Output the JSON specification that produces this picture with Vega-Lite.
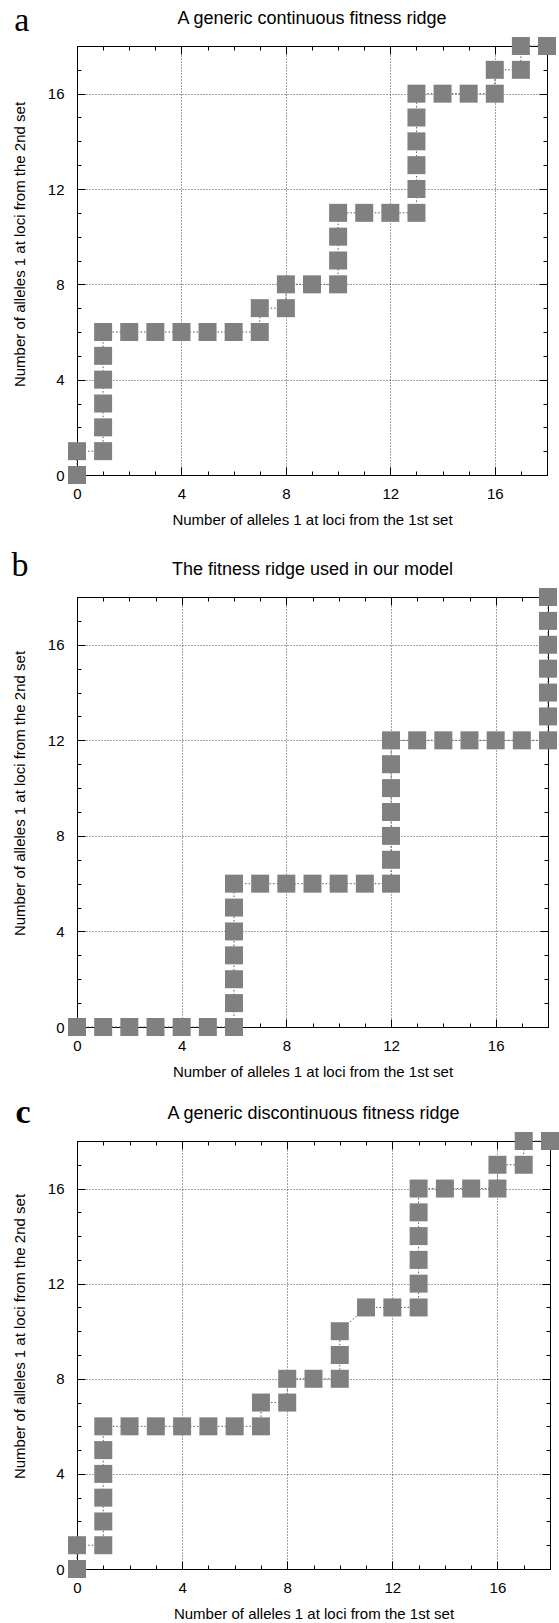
{
  "$schema": "https://vega.github.io/schema/vega-lite/v6.json",
  "background": "#ffffff",
  "padding": {"left": 10, "top": 3, "right": 0, "bottom": 0},
  "datasets": {
    "a": [
      {"x": 0, "y": 0}, {"x": 0, "y": 1}, {"x": 1, "y": 1}, {"x": 1, "y": 2}, {"x": 1, "y": 3}, {"x": 1, "y": 4}, {"x": 1, "y": 5}, {"x": 1, "y": 6},
      {"x": 2, "y": 6}, {"x": 3, "y": 6}, {"x": 4, "y": 6}, {"x": 5, "y": 6}, {"x": 6, "y": 6}, {"x": 7, "y": 6}, {"x": 7, "y": 7}, {"x": 8, "y": 7},
      {"x": 8, "y": 8}, {"x": 9, "y": 8}, {"x": 10, "y": 8}, {"x": 10, "y": 9}, {"x": 10, "y": 10}, {"x": 10, "y": 11}, {"x": 11, "y": 11}, {"x": 12, "y": 11},
      {"x": 13, "y": 11}, {"x": 13, "y": 12}, {"x": 13, "y": 13}, {"x": 13, "y": 14}, {"x": 13, "y": 15}, {"x": 13, "y": 16}, {"x": 14, "y": 16}, {"x": 15, "y": 16},
      {"x": 16, "y": 16}, {"x": 16, "y": 17}, {"x": 17, "y": 17}, {"x": 17, "y": 18}, {"x": 18, "y": 18}
    ],
    "b": [
      {"x": 0, "y": 0}, {"x": 1, "y": 0}, {"x": 2, "y": 0}, {"x": 3, "y": 0}, {"x": 4, "y": 0}, {"x": 5, "y": 0}, {"x": 6, "y": 0},
      {"x": 6, "y": 1}, {"x": 6, "y": 2}, {"x": 6, "y": 3}, {"x": 6, "y": 4}, {"x": 6, "y": 5}, {"x": 6, "y": 6},
      {"x": 7, "y": 6}, {"x": 8, "y": 6}, {"x": 9, "y": 6}, {"x": 10, "y": 6}, {"x": 11, "y": 6}, {"x": 12, "y": 6},
      {"x": 12, "y": 7}, {"x": 12, "y": 8}, {"x": 12, "y": 9}, {"x": 12, "y": 10}, {"x": 12, "y": 11}, {"x": 12, "y": 12},
      {"x": 13, "y": 12}, {"x": 14, "y": 12}, {"x": 15, "y": 12}, {"x": 16, "y": 12}, {"x": 17, "y": 12}, {"x": 18, "y": 12},
      {"x": 18, "y": 13}, {"x": 18, "y": 14}, {"x": 18, "y": 15}, {"x": 18, "y": 16}, {"x": 18, "y": 17}, {"x": 18, "y": 18}
    ],
    "c": [
      {"x": 0, "y": 0}, {"x": 0, "y": 1}, {"x": 1, "y": 1}, {"x": 1, "y": 2}, {"x": 1, "y": 3}, {"x": 1, "y": 4}, {"x": 1, "y": 5}, {"x": 1, "y": 6},
      {"x": 2, "y": 6}, {"x": 3, "y": 6}, {"x": 4, "y": 6}, {"x": 5, "y": 6}, {"x": 6, "y": 6}, {"x": 7, "y": 6}, {"x": 7, "y": 7}, {"x": 8, "y": 7},
      {"x": 8, "y": 8}, {"x": 9, "y": 8}, {"x": 10, "y": 8}, {"x": 10, "y": 9}, {"x": 10, "y": 10}, {"x": 11, "y": 11}, {"x": 12, "y": 11},
      {"x": 13, "y": 11}, {"x": 13, "y": 12}, {"x": 13, "y": 13}, {"x": 13, "y": 14}, {"x": 13, "y": 15}, {"x": 13, "y": 16}, {"x": 14, "y": 16}, {"x": 15, "y": 16},
      {"x": 16, "y": 16}, {"x": 16, "y": 17}, {"x": 17, "y": 17}, {"x": 17, "y": 18}, {"x": 18, "y": 18}
    ]
  },
  "spacing": 20,
  "vconcat": [
    {
      "width": 470, "height": 429,
      "data": {"name": "a"},
      "resolve": {"axis": {"x": "independent", "y": "independent"}},
      "layer": [
        {
          "mark": {"type": "line", "color": "#555555", "strokeWidth": 1, "strokeDash": [1.5, 2]},
          "encoding": {
            "x": {"field": "x", "type": "quantitative", "scale": {"domain": [0, 18], "nice": false},
              "axis": {"orient": "top", "values": [0,1,2,3,4,5,6,7,8,9,10,11,12,13,14,15,16,17,18], "labels": false, "title": null, "grid": false, "tickColor": "#000000", "domainColor": "#000000",
                "tickSize": {"condition": {"test": "datum.value % 4 === 0", "value": -8}, "value": -4}}},
            "y": {"field": "y", "type": "quantitative", "scale": {"domain": [0, 18], "nice": false},
              "axis": {"orient": "right", "values": [0,1,2,3,4,5,6,7,8,9,10,11,12,13,14,15,16,17,18], "labels": false, "title": null, "grid": false, "tickColor": "#000000", "domainColor": "#000000",
                "tickSize": {"condition": {"test": "datum.value % 4 === 0", "value": -8}, "value": -4}}},
            "order": {"value": null}
          }
        },
        {
          "mark": {"type": "square", "size": 324, "color": "#808080", "opacity": 1},
          "encoding": {
            "x": {"field": "x", "type": "quantitative", "scale": {"domain": [0, 18], "nice": false},
              "axis": {"orient": "bottom", "values": [0,1,2,3,4,5,6,7,8,9,10,11,12,13,14,15,16,17,18], "title": "Number of alleles 1 at loci from the 1st set",
                "labelExpr": "datum.value % 4 === 0 ? datum.label : ''", "labelFlush": false, "labelOverlap": false,
                "grid": true, "gridColor": "#000000", "gridDash": [1, 2], "gridWidth": 0.8,
                "gridOpacity": {"condition": {"test": "datum.value % 4 === 0", "value": 0.9}, "value": 0},
                "tickSize": {"condition": {"test": "datum.value % 4 === 0", "value": -8}, "value": -4}, "tickColor": "#000000", "domainColor": "#000000",
                "labelFont": "Liberation Sans", "labelFontSize": 15, "labelColor": "#000000", "labelPadding": 19,
                "titleFont": "Liberation Sans", "titleFontSize": 15, "titleFontWeight": "normal", "titleColor": "#000000", "titlePadding": 7}},
            "y": {"field": "y", "type": "quantitative", "scale": {"domain": [0, 18], "nice": false},
              "axis": {"orient": "left", "values": [0,1,2,3,4,5,6,7,8,9,10,11,12,13,14,15,16,17,18], "title": "Number of alleles 1 at loci from the 2nd set",
                "labelExpr": "datum.value % 4 === 0 ? datum.label : ''", "labelFlush": false, "labelOverlap": false,
                "grid": true, "gridColor": "#000000", "gridDash": [1, 2], "gridWidth": 0.8,
                "gridOpacity": {"condition": {"test": "datum.value % 4 === 0", "value": 0.9}, "value": 0},
                "tickSize": {"condition": {"test": "datum.value % 4 === 0", "value": -8}, "value": -4}, "tickColor": "#000000", "domainColor": "#000000",
                "labelFont": "Liberation Sans", "labelFontSize": 15, "labelColor": "#000000", "labelPadding": 21,
                "titleFont": "Liberation Sans", "titleFontSize": 15, "titleFontWeight": "normal", "titleColor": "#000000", "titlePadding": 20, "titleY": 198}}
          }
        },
        {
          "data": {"values": [{}]},
          "mark": {"type": "text", "text": "a", "font": "Liberation Serif", "fontSize": 34, "align": "center", "baseline": "alphabetic", "color": "#000000"},
          "encoding": {
            "x": {"datum": -2.11, "type": "quantitative", "scale": {"domain": [0, 18], "nice": false}, "axis": null},
            "y": {"datum": 18.65, "type": "quantitative", "scale": {"domain": [0, 18], "nice": false}, "axis": null}
          }
        },
        {
          "data": {"values": [{}]},
          "mark": {"type": "text", "text": "A generic continuous fitness ridge", "font": "Liberation Sans", "fontSize": 18, "align": "center", "baseline": "alphabetic", "color": "#000000"},
          "encoding": {
            "x": {"datum": 9, "type": "quantitative", "scale": {"domain": [0, 18], "nice": false}, "axis": null},
            "y": {"datum": 18.94, "type": "quantitative", "scale": {"domain": [0, 18], "nice": false}, "axis": null}
          }
        }
      ]
    },
    {
      "spacing": 15,
      "vconcat": [
        {
          "width": 471, "height": 430,
          "data": {"name": "b"},
          "resolve": {"axis": {"x": "independent", "y": "independent"}},
          "layer": [
            {
              "mark": {"type": "line", "color": "#555555", "strokeWidth": 1, "strokeDash": [1.5, 2]},
              "encoding": {
                "x": {"field": "x", "type": "quantitative", "scale": {"domain": [0, 18], "nice": false},
                  "axis": {"orient": "top", "values": [0,1,2,3,4,5,6,7,8,9,10,11,12,13,14,15,16,17,18], "labels": false, "title": null, "grid": false, "tickColor": "#000000", "domainColor": "#000000",
                    "tickSize": {"condition": {"test": "datum.value % 4 === 0", "value": -8}, "value": -4}}},
                "y": {"field": "y", "type": "quantitative", "scale": {"domain": [0, 18], "nice": false},
                  "axis": {"orient": "right", "values": [0,1,2,3,4,5,6,7,8,9,10,11,12,13,14,15,16,17,18], "labels": false, "title": null, "grid": false, "tickColor": "#000000", "domainColor": "#000000",
                    "tickSize": {"condition": {"test": "datum.value % 4 === 0", "value": -8}, "value": -4}}},
                "order": {"value": null}
              }
            },
            {
              "mark": {"type": "square", "size": 324, "color": "#808080", "opacity": 1},
              "encoding": {
                "x": {"field": "x", "type": "quantitative", "scale": {"domain": [0, 18], "nice": false},
                  "axis": {"orient": "bottom", "values": [0,1,2,3,4,5,6,7,8,9,10,11,12,13,14,15,16,17,18], "title": "Number of alleles 1 at loci from the 1st set",
                    "labelExpr": "datum.value % 4 === 0 ? datum.label : ''", "labelFlush": false, "labelOverlap": false,
                    "grid": true, "gridColor": "#000000", "gridDash": [1, 2], "gridWidth": 0.8,
                    "gridOpacity": {"condition": {"test": "datum.value % 4 === 0", "value": 0.9}, "value": 0},
                    "tickSize": {"condition": {"test": "datum.value % 4 === 0", "value": -8}, "value": -4}, "tickColor": "#000000", "domainColor": "#000000",
                    "labelFont": "Liberation Sans", "labelFontSize": 15, "labelColor": "#000000", "labelPadding": 19,
                    "titleFont": "Liberation Sans", "titleFontSize": 15, "titleFontWeight": "normal", "titleColor": "#000000", "titlePadding": 7}},
                "y": {"field": "y", "type": "quantitative", "scale": {"domain": [0, 18], "nice": false},
                  "axis": {"orient": "left", "values": [0,1,2,3,4,5,6,7,8,9,10,11,12,13,14,15,16,17,18], "title": "Number of alleles 1 at loci from the 2nd set",
                    "labelExpr": "datum.value % 4 === 0 ? datum.label : ''", "labelFlush": false, "labelOverlap": false,
                    "grid": true, "gridColor": "#000000", "gridDash": [1, 2], "gridWidth": 0.8,
                    "gridOpacity": {"condition": {"test": "datum.value % 4 === 0", "value": 0.9}, "value": 0},
                    "tickSize": {"condition": {"test": "datum.value % 4 === 0", "value": -8}, "value": -4}, "tickColor": "#000000", "domainColor": "#000000",
                    "labelFont": "Liberation Sans", "labelFontSize": 15, "labelColor": "#000000", "labelPadding": 21,
                    "titleFont": "Liberation Sans", "titleFontSize": 15, "titleFontWeight": "normal", "titleColor": "#000000", "titlePadding": 20, "titleY": 196}}
              }
            },
            {
              "data": {"values": [{}]},
              "mark": {"type": "text", "text": "b", "font": "Liberation Serif", "fontSize": 34, "align": "center", "baseline": "alphabetic", "color": "#000000"},
              "encoding": {
                "x": {"datum": -2.18, "type": "quantitative", "scale": {"domain": [0, 18], "nice": false}, "axis": null},
                "y": {"datum": 18.88, "type": "quantitative", "scale": {"domain": [0, 18], "nice": false}, "axis": null}
              }
            },
            {
              "data": {"values": [{}]},
              "mark": {"type": "text", "text": "The fitness ridge used in our model", "font": "Liberation Sans", "fontSize": 18, "align": "center", "baseline": "alphabetic", "color": "#000000"},
              "encoding": {
                "x": {"datum": 9, "type": "quantitative", "scale": {"domain": [0, 18], "nice": false}, "axis": null},
                "y": {"datum": 18.92, "type": "quantitative", "scale": {"domain": [0, 18], "nice": false}, "axis": null}
              }
            }
          ]
        },
        {
          "width": 473, "height": 428,
          "data": {"name": "c"},
          "resolve": {"axis": {"x": "independent", "y": "independent"}},
          "layer": [
            {
              "mark": {"type": "line", "color": "#555555", "strokeWidth": 1, "strokeDash": [1.5, 2]},
              "encoding": {
                "x": {"field": "x", "type": "quantitative", "scale": {"domain": [0, 18], "nice": false},
                  "axis": {"orient": "top", "values": [0,1,2,3,4,5,6,7,8,9,10,11,12,13,14,15,16,17,18], "labels": false, "title": null, "grid": false, "tickColor": "#000000", "domainColor": "#000000",
                    "tickSize": {"condition": {"test": "datum.value % 4 === 0", "value": -8}, "value": -4}}},
                "y": {"field": "y", "type": "quantitative", "scale": {"domain": [0, 18], "nice": false},
                  "axis": {"orient": "right", "values": [0,1,2,3,4,5,6,7,8,9,10,11,12,13,14,15,16,17,18], "labels": false, "title": null, "grid": false, "tickColor": "#000000", "domainColor": "#000000",
                    "tickSize": {"condition": {"test": "datum.value % 4 === 0", "value": -8}, "value": -4}}},
                "order": {"value": null}
              }
            },
            {
              "mark": {"type": "square", "size": 324, "color": "#808080", "opacity": 1},
              "encoding": {
                "x": {"field": "x", "type": "quantitative", "scale": {"domain": [0, 18], "nice": false},
                  "axis": {"orient": "bottom", "values": [0,1,2,3,4,5,6,7,8,9,10,11,12,13,14,15,16,17,18], "title": "Number of alleles 1 at loci from the 1st set",
                    "labelExpr": "datum.value % 4 === 0 ? datum.label : ''", "labelFlush": false, "labelOverlap": false,
                    "grid": true, "gridColor": "#000000", "gridDash": [1, 2], "gridWidth": 0.8,
                    "gridOpacity": {"condition": {"test": "datum.value % 4 === 0", "value": 0.9}, "value": 0},
                    "tickSize": {"condition": {"test": "datum.value % 4 === 0", "value": -8}, "value": -4}, "tickColor": "#000000", "domainColor": "#000000",
                    "labelFont": "Liberation Sans", "labelFontSize": 15, "labelColor": "#000000", "labelPadding": 19,
                    "titleFont": "Liberation Sans", "titleFontSize": 15, "titleFontWeight": "normal", "titleColor": "#000000", "titlePadding": 7}},
                "y": {"field": "y", "type": "quantitative", "scale": {"domain": [0, 18], "nice": false},
                  "axis": {"orient": "left", "values": [0,1,2,3,4,5,6,7,8,9,10,11,12,13,14,15,16,17,18], "title": "Number of alleles 1 at loci from the 2nd set",
                    "labelExpr": "datum.value % 4 === 0 ? datum.label : ''", "labelFlush": false, "labelOverlap": false,
                    "grid": true, "gridColor": "#000000", "gridDash": [1, 2], "gridWidth": 0.8,
                    "gridOpacity": {"condition": {"test": "datum.value % 4 === 0", "value": 0.9}, "value": 0},
                    "tickSize": {"condition": {"test": "datum.value % 4 === 0", "value": -8}, "value": -4}, "tickColor": "#000000", "domainColor": "#000000",
                    "labelFont": "Liberation Sans", "labelFontSize": 15, "labelColor": "#000000", "labelPadding": 21,
                    "titleFont": "Liberation Sans", "titleFontSize": 15, "titleFontWeight": "normal", "titleColor": "#000000", "titlePadding": 20, "titleY": 195}}
              }
            },
            {
              "data": {"values": [{}]},
              "mark": {"type": "text", "text": "c", "font": "Liberation Serif", "fontSize": 34, "fontWeight": "bold", "align": "center", "baseline": "alphabetic", "color": "#000000"},
              "encoding": {
                "x": {"datum": -2.05, "type": "quantitative", "scale": {"domain": [0, 18], "nice": false}, "axis": null},
                "y": {"datum": 18.76, "type": "quantitative", "scale": {"domain": [0, 18], "nice": false}, "axis": null}
              }
            },
            {
              "data": {"values": [{}]},
              "mark": {"type": "text", "text": "A generic discontinuous fitness ridge", "font": "Liberation Sans", "fontSize": 18, "align": "center", "baseline": "alphabetic", "color": "#000000"},
              "encoding": {
                "x": {"datum": 9, "type": "quantitative", "scale": {"domain": [0, 18], "nice": false}, "axis": null},
                "y": {"datum": 18.93, "type": "quantitative", "scale": {"domain": [0, 18], "nice": false}, "axis": null}
              }
            }
          ]
        }
      ]
    }
  ],
  "config": {
    "font": "Liberation Sans",
    "view": {"stroke": "#000000", "strokeWidth": 1}
  }
}
